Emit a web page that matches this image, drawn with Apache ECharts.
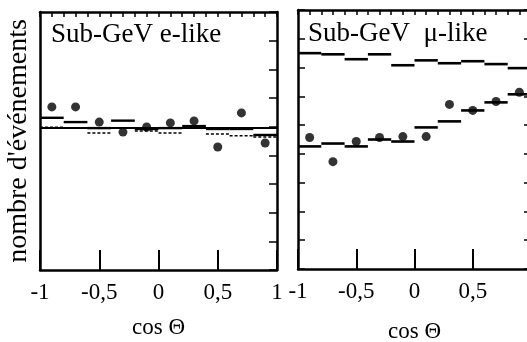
<!DOCTYPE html>
<html>
<head>
<meta charset="utf-8">
<script src="https://cdn.jsdelivr.net/npm/echarts@6/dist/echarts.min.js"></script>
<style>
html,body{margin:0;padding:0;background:#fff;}
#chart{width:527px;height:342px;}
</style>
</head>
<body>
<div id="chart"></div>
<script>
// ---- data (y in arbitrary units 0..9) ----
const binCenters = [-0.9, -0.7, -0.5, -0.3, -0.1, 0.1, 0.3, 0.5, 0.7, 0.9];
const binHalfWidth = 0.1;
const xTickLabels = ['-1', '-0,5', '0', '0,5', '1'];

// Sub-GeV e-like
const eData   = [5.69, 5.69, 5.16, 4.81, 4.99, 5.13, 5.20, 4.29, 5.48, 4.43];
const eNoOsc  = [5.31, 5.16, 4.95, 5.21, 4.92, 4.95, 5.02, 4.92, 4.92, 4.71];
const eOsc    = [4.98, 4.96, 4.78, 4.95, 4.85, 4.78, 4.95, 4.74, 4.68, 4.64];
const eFlat   = 4.95;

// Sub-GeV mu-like
const muData  = [4.57, 3.73, 4.43, 4.57, 4.60, 4.60, 5.72, 5.51, 5.82, 6.14];
const muNoOsc = [7.50, 7.46, 7.29, 7.46, 7.08, 7.25, 7.15, 7.22, 7.12, 6.98];
const muOsc   = [4.26, 4.36, 4.26, 4.50, 4.43, 4.92, 5.13, 5.51, 5.79, 6.07];

const titles = ['Sub-GeV e-like', 'Sub-GeV  \u03bc-like'];
const yName = "nombre d'\u00e9v\u00e9nements";
const xName = 'cos \u0398';

const SERIF = '"Liberation Serif", "DejaVu Serif", serif';

function pairs(vals) { return binCenters.map((c, i) => [c, vals[i]]); }

function stepSeries(xi, yi, vals, dash, width) {
  return {
    type: 'custom', xAxisIndex: xi, yAxisIndex: yi,
    data: pairs(vals),
    renderItem: function (params, api) {
      const x = api.value(0), y = api.value(1);
      const p1 = api.coord([x - binHalfWidth, y]);
      const p2 = api.coord([x + binHalfWidth, y]);
      return {
        type: 'line',
        shape: { x1: p1[0], y1: p1[1], x2: p2[0], y2: p2[1] },
        style: { stroke: '#000', lineWidth: width, lineDash: dash }
      };
    },
    silent: true, z: 3
  };
}

function xBottom(grid, nameGap) {
  return {
    gridIndex: grid, type: 'value', position: 'bottom', min: -1, max: 1, interval: 0.5,
    axisLine: { show: true, onZero: false, lineStyle: { color: '#000', width: 2.5 } },
    axisTick: { show: true, inside: true, length: 20, lineStyle: { color: '#000', width: 2 } },
    axisLabel: {
      show: true, margin: 11, color: '#000', fontFamily: SERIF, fontSize: 23,
      formatter: function (v) {
        const idx = Math.round((v + 1) / 0.5);
        return xTickLabels[idx] !== undefined ? xTickLabels[idx] : '';
      }
    },
    splitLine: { show: false },
    name: xName, nameLocation: 'middle', nameGap: nameGap,
    nameTextStyle: { color: '#000', fontFamily: SERIF, fontSize: 23 }
  };
}
function xTop(grid) {
  return {
    gridIndex: grid, type: 'value', position: 'top', min: -1, max: 1, interval: 0.1,
    axisLine: { show: true, onZero: false, lineStyle: { color: '#000', width: 2.5 } },
    axisTick: { show: true, inside: true, length: 5, lineStyle: { color: '#000', width: 1.5 } },
    axisLabel: { show: false }, splitLine: { show: false }
  };
}
function yAx(grid, pos, tickLen, name) {
  const a = {
    gridIndex: grid, type: 'value', position: pos, min: 0, max: 9, interval: 1,
    axisLine: { show: true, onZero: false, lineStyle: { color: '#000', width: 2.5 } },
    axisTick: { show: tickLen > 0, inside: true, length: tickLen, lineStyle: { color: '#000', width: 1.5 } },
    axisLabel: { show: false }, splitLine: { show: false }
  };
  if (name) {
    a.name = name; a.nameLocation = 'middle'; a.nameGap = 7; a.nameRotate = 90;
    a.nameTextStyle = { color: '#000', fontFamily: SERIF, fontSize: 28 };
  }
  return a;
}

const chart = echarts.init(document.getElementById('chart'), null, { renderer: 'canvas' });
chart.setOption({
  animation: false,
  backgroundColor: '#fff',
  title: [
    { text: titles[0], left: 46, top: 16, textStyle: { color: '#000', fontFamily: SERIF, fontSize: 27, fontWeight: 'normal' } },
    { text: titles[1], left: 303, top: 15, textStyle: { color: '#000', fontFamily: SERIF, fontSize: 27, fontWeight: 'normal' } }
  ],
  grid: [
    { left: 40, top: 12, width: 237, height: 258, outerBoundsMode: 'none', containLabel: false },
    { left: 298, top: 10, width: 233, height: 259, outerBoundsMode: 'none', containLabel: false }
  ],
  xAxis: [xBottom(0, 46), xTop(0), xBottom(1, 51), xTop(1)],
  yAxis: [yAx(0, 'left', 0, yName), yAx(0, 'right', 8), yAx(1, 'left', 7), yAx(1, 'right', 7)],
  series: [
    {
      type: 'line', xAxisIndex: 0, yAxisIndex: 0, data: [[-1, eFlat], [1, eFlat]],
      symbol: 'none', lineStyle: { color: '#000', width: 2 }, silent: true, z: 2
    },
    stepSeries(0, 0, eNoOsc, null, 2.4),
    stepSeries(0, 0, eOsc, [3, 2], 1.5),
    {
      type: 'scatter', xAxisIndex: 0, yAxisIndex: 0, data: pairs(eData),
      symbol: 'circle', symbolSize: 9, itemStyle: { color: '#000' }, z: 5
    },
    stepSeries(2, 2, muNoOsc, null, 2.6),
    stepSeries(2, 2, muOsc, null, 2.6),
    {
      type: 'scatter', xAxisIndex: 2, yAxisIndex: 2, data: pairs(muData),
      symbol: 'circle', symbolSize: 9, itemStyle: { color: '#000' }, z: 5
    }
  ]
});
</script>
</body>
</html>
